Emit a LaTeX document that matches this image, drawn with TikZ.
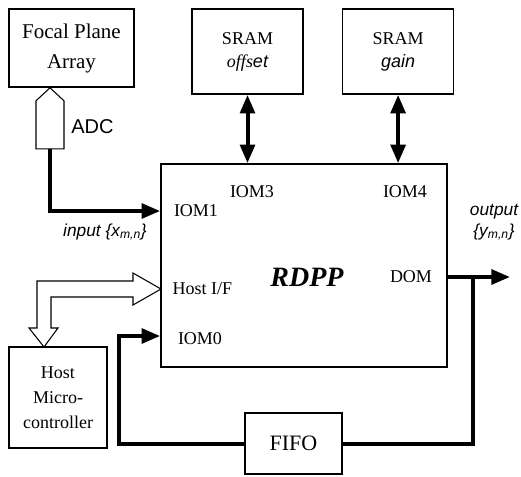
\documentclass[tikz,border=0pt]{standalone}
\usepackage{fontspec}
\setmainfont{Liberation Serif}
\setsansfont{Liberation Sans}
\usetikzlibrary{arrows.meta,positioning,calc}

\begin{document}
\begin{tikzpicture}[x=0.75pt, y=-0.75pt, >={Triangle[length=14pt,width=11pt]}]
        \tikzset{blk/.style={rectangle, draw, line width=1.2pt, align=center, inner sep=0pt, font=\fontsize{13.5}{17.25}\selectfont}, bus/.style={line width=3pt}, hollow/.style={draw, line width=0.8pt, fill=white, line join=miter}, port/.style={inner sep=0pt, font=\fontsize{13.5}{16}\selectfont}, sig/.style={inner sep=0pt, align=center, font=\sffamily\itshape\fontsize{13}{15.75}\selectfont}}
        \useasboundingbox (0,0) rectangle (521,476);
        \node[blk, minimum width=93.75pt, minimum height=58.5pt, font=\fontsize{15.75}{22.5}\selectfont] (fpa) at (71.5,48) {Focal Plane\\Array};
        \node[blk, minimum width=83.25pt, minimum height=63.75pt] (sramo) at (247.5,51.5) {SRAM\\{\itshape offs}{\sffamily\itshape et}};
        \node[blk, minimum width=83.25pt, minimum height=63.75pt, right=28.5pt of sramo] (sramg) {SRAM\\{\sffamily\itshape gain}};
        \node[blk, minimum width=214.5pt, minimum height=152.25pt] (rdpp) at (304,265.5) {};
        \node[blk, minimum width=73.5pt, minimum height=75.75pt, font=\fontsize{13.5}{18.75}\selectfont] (host) at (58,397.5) {Host\\Micro-\\controller};
        \node[blk, minimum width=72.75pt, minimum height=45.75pt, font=\fontsize{16.5}{20}\selectfont] (fifo) at (293.5,443.5) {FIFO};
        % labels inside the processor
        \node[font=\bfseries\itshape\fontsize{21}{24}\selectfont] (rdpplbl) at (307,277) {RDPP};
        \node[port] (iom1) at (196,211) {IOM1};
        \node[port] (iom3) at (252,192) {IOM3};
        \node[port] (iom4) at (405,192) {IOM4};
        \node[port] (hostif) at (202.5,289) {Host I/F};
        \node[port] (iom0) at (200,339) {IOM0};
        \node[port] (dom) at (411,277) {DOM};
        \node[sig] (inlbl) at (105,232) {input \{x\textsubscript{m,n}\}};
        \node[sig] (outlbl) at (494,222) {output\\\{y\textsubscript{m,n}\}};
        \node[inner sep=0pt, font=\sffamily\fontsize{15}{18}\selectfont] (adclbl) at (92.5,127) {ADC};
        \coordinate (adctip) at ($(fpa.south)+(-21.5,0)$);
        \coordinate (adcb) at ($(adctip)+(0,61)$);
        \coordinate (tap) at (473,277);
        \coordinate (out) at (510,277);
        \coordinate (loop) at (119,336);
        \coordinate (hmtip) at (44,347);
        % ADC and host interface buses
        \draw[hollow] (adctip) -- ++(14,13) -- ++(0,48) -- ++(-28,0) -- ++(0,-48) -- cycle;
        \draw[hollow] (hmtip) -- ++(14,-19) -- ++(-7,0) -- ++(0,-31) -- ++(82,0) -- ++(0,8) -- ++(28,-16) -- ++(-28,-16) -- ++(0,8) -- ++(-96,0) -- ++(0,47) -- ++(-8,0) -- cycle;
        % data paths
        \draw[bus, ->] (adcb) |- (rdpp.west |- iom1);
        \draw[bus, <->] (sramo.south) -- (sramo.south |- rdpp.north);
        \draw[bus, <->] (sramg.south) -- (sramg.south |- rdpp.north);
        \draw[bus, ->] (rdpp.east |- dom) -- (out);
        \draw[bus] (tap) |- (fifo.east);
        \draw[bus, ->] (fifo.west) -| (loop) -- (rdpp.west |- loop);
    \end{tikzpicture}
\end{document}
